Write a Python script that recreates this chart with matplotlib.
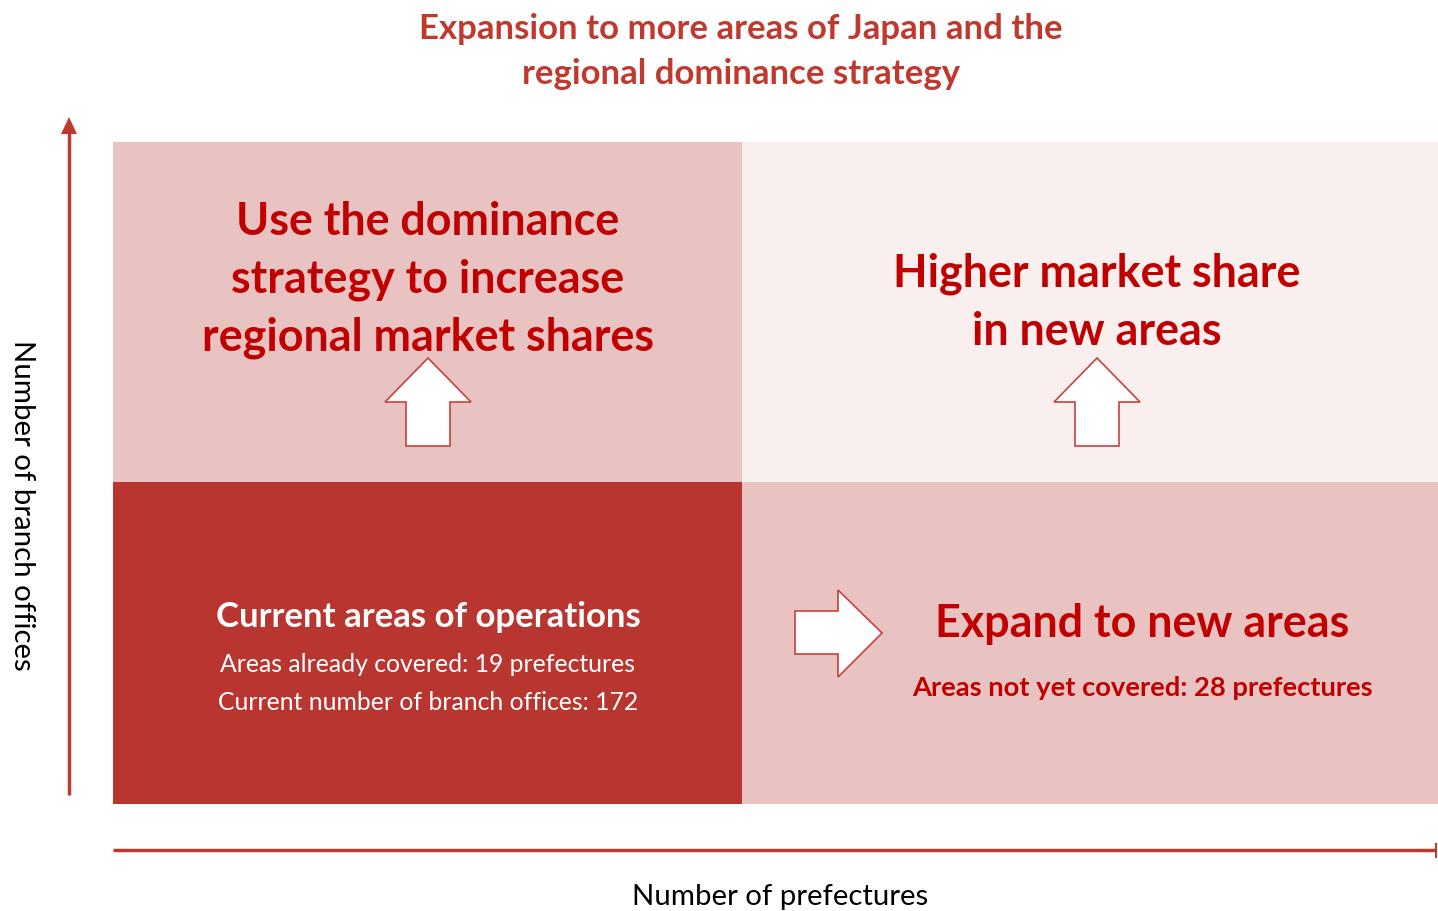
import matplotlib
matplotlib.use("Agg")
import matplotlib.pyplot as plt
from matplotlib.patches import Rectangle, Polygon

plt.rcParams['font.family'] = ['Lato', 'DejaVu Sans']

# ---- data ----
title_lines = ["Expansion to more areas of Japan and the", "regional dominance strategy"]
x_label = "Number of prefectures"
y_label = "Number of branch offices"
top_left_lines = ["Use the dominance", "strategy to increase", "regional market shares"]
top_right_lines = ["Higher market share", "in new areas"]
bottom_left_title = "Current areas of operations"
bottom_right_title = "Expand to new areas"
prefectures_covered = 19
branch_offices = 172
prefectures_not_covered = 28

DARK = "#B93530"
PINK = "#E8C3C2"
LIGHT = "#F9EFEF"
RED_TXT = "#C00000"
AXIS_RED = "#C0392F"

W, H = 1438, 911
fig = plt.figure(figsize=(W / 100, H / 100), dpi=100)
ax = fig.add_axes([0, 0, 1, 1])
ax.set_xlim(0, W)
ax.set_ylim(H, 0)
ax.axis("off")

# quadrants
xl, xm, xr = 113, 742, 1438
yt, ym, yb = 142, 482, 804
ax.add_patch(Rectangle((xl, yt), xm - xl, ym - yt, color=PINK, lw=0))
ax.add_patch(Rectangle((xm, yt), xr - xm, ym - yt, color=LIGHT, lw=0))
ax.add_patch(Rectangle((xl, ym), xm - xl, yb - ym, color=DARK, lw=0))
ax.add_patch(Rectangle((xm, ym), xr - xm, yb - ym, color=PINK, lw=0))

# block arrows
def up_arrow(cx):
    pts = [(cx, 358), (cx + 43, 402), (cx + 22, 402), (cx + 22, 446),
           (cx - 22, 446), (cx - 22, 402), (cx - 43, 402)]
    ax.add_patch(Polygon(pts, closed=True, fc="white", ec="#C9413C", lw=1.2))

up_arrow(428)
up_arrow(1097)
pts = [(882, 633), (838, 590), (838, 611), (795, 611), (795, 654), (838, 654), (838, 677)]
ax.add_patch(Polygon(pts, closed=True, fc="white", ec="#C9413C", lw=1.2))

# axes lines
ax.plot([69, 69], [795, 130], color=AXIS_RED, lw=2.5, solid_capstyle="butt")
ax.add_patch(Polygon([(69, 117), (61, 134), (77, 134)], closed=True, fc=AXIS_RED, ec="none"))
ax.plot([113, 1436], [850, 850], color=AXIS_RED, lw=2.5, solid_capstyle="butt")
ax.plot([1436, 1436], [844, 857], color=AXIS_RED, lw=1.5)

# texts
dy = 2
for y, s in zip([27, 72], title_lines):
    ax.text(741, y + dy, s, ha="center", va="center", fontsize=25, fontweight="bold", color=AXIS_RED)

for y, s in zip([220, 278, 336], top_left_lines):
    ax.text(428, y + dy, s, ha="center", va="center", fontsize=32.3, fontweight="bold", color=RED_TXT)
for y, s in zip([272, 330], top_right_lines):
    ax.text(1097, y + dy, s, ha="center", va="center", fontsize=32.3, fontweight="bold", color=RED_TXT)

ax.text(428, 615 + dy, bottom_left_title, ha="center", va="center", fontsize=25, fontweight="bold", color="white")
ax.text(428, 663 + dy, f"Areas already covered: {prefectures_covered} prefectures", ha="center", va="center",
        fontsize=17.8, color="white")
ax.text(428, 701 + dy, f"Current number of branch offices: {branch_offices}", ha="center", va="center",
        fontsize=17.8, color="white")

ax.text(1142, 622 + dy, bottom_right_title, ha="center", va="center", fontsize=32.3, fontweight="bold", color=RED_TXT)
ax.text(1142, 686 + dy, f"Areas not yet covered: {prefectures_not_covered} prefectures", ha="center", va="center",
        fontsize=19.7, fontweight="bold", color=RED_TXT)

ax.text(780, 895 + dy, x_label, ha="center", va="center", fontsize=21.2, color="black")
ax.text(22, 505, y_label, ha="center", va="center", fontsize=21.2, color="black", rotation=-90)

fig.savefig("out.png", dpi=100)
